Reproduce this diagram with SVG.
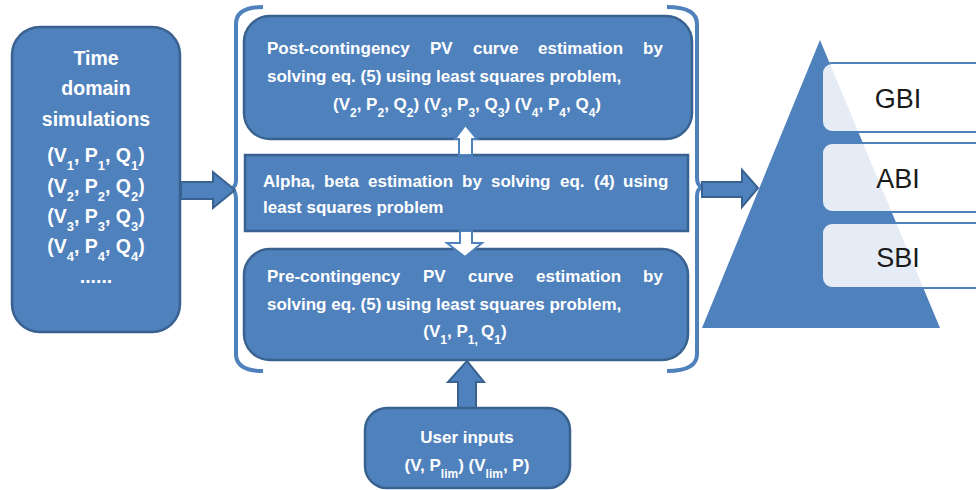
<svg xmlns="http://www.w3.org/2000/svg" width="976" height="490" viewBox="0 0 976 490">
<style>
.box{fill:#4f81bd;stroke:#3a6290;stroke-width:2.5}
.t{fill:#fff;font-family:"Liberation Sans",Arial,sans-serif;font-weight:bold;font-size:17px}
.tl{fill:#fff;font-family:"Liberation Sans",Arial,sans-serif;font-weight:bold;font-size:19.5px;text-anchor:middle}
.c{text-anchor:middle}
.s{font-size:12px;baseline-shift:sub}
.s2{font-size:13px;baseline-shift:sub}
.br{fill:none;stroke:#4f81bd;stroke-width:4}
.ar{fill:#4f81bd;stroke:#3a6290;stroke-width:2}
.aw{fill:#fff;stroke:#4f81bd;stroke-width:2}
.idx{fill:#fff;fill-opacity:0.85;stroke:#4f81bd;stroke-width:2}
.it{fill:#1a1a1a;font-family:"Liberation Sans",Arial,sans-serif;font-size:27px;text-anchor:middle}
</style>
<rect width="976" height="490" fill="#fff"/>
<g id="connectors">
<path class="br" d="M263 7 Q236 7 236 24 L236 180 Q236 187 231 189 Q236 191 236 198 L236 354 Q236 371 263 371"/>
<path class="br" d="M667 7 Q697 7 697 24 L697 178 Q697 185 702 187 Q697 189 697 196 L697 354 Q697 371 667 371"/>
<path class="ar" d="M181 182 L213 182 L213 172 L235 190 L213 208 L213 199 L181 199 Z"/>
<path class="ar" d="M702 182 L742 182 L742 170 L758 188 L742 207 L742 197 L702 197 Z"/>
<path class="ar" d="M458 408 L458 382 L448 382 L467 361 L484 382 L476 382 L476 408 Z"/>
</g>
<g id="time-domain">
<rect class="box" x="12" y="27" width="168" height="305" rx="28"/>
<text class="tl" x="96" y="65">Time</text>
<text class="tl" x="96" y="95">domain</text>
<text class="tl" x="96" y="126">simulations</text>
<text class="tl" x="96" y="162">(V<tspan class="s2">1</tspan>, P<tspan class="s2">1</tspan>, Q<tspan class="s2">1</tspan>)</text>
<text class="tl" x="96" y="193">(V<tspan class="s2">2</tspan>, P<tspan class="s2">2</tspan>, Q<tspan class="s2">2</tspan>)</text>
<text class="tl" x="96" y="223">(V<tspan class="s2">3</tspan>, P<tspan class="s2">3</tspan>, Q<tspan class="s2">3</tspan>)</text>
<text class="tl" x="96" y="253">(V<tspan class="s2">4</tspan>, P<tspan class="s2">4</tspan>, Q<tspan class="s2">4</tspan>)</text>
<text class="tl" x="96" y="283">......</text>
</g>
<g id="post-contingency">
<rect class="box" x="244" y="16" width="448" height="123" rx="26"/>
<text class="t" y="54"><tspan x="267">Post-contingency</tspan><tspan x="430">PV</tspan><tspan x="473">curve</tspan><tspan x="538">estimation</tspan><tspan x="643">by</tspan></text>
<text class="t" x="267" y="82">solving eq. (5) using least squares problem,</text>
<text class="t c" x="467" y="110">(V<tspan class="s">2</tspan>, P<tspan class="s">2</tspan>, Q<tspan class="s">2</tspan>) (V<tspan class="s">3</tspan>, P<tspan class="s">3</tspan>, Q<tspan class="s">3</tspan>) (V<tspan class="s">4</tspan>, P<tspan class="s">4</tspan>, Q<tspan class="s">4</tspan>)</text>
</g>
<g id="alpha-beta">
<rect class="box" x="245" y="155" width="443" height="76"/>
<text class="t" y="187"><tspan x="263">Alpha,</tspan><tspan x="324">beta</tspan><tspan x="368">estimation</tspan><tspan x="462">by</tspan><tspan x="491">solving</tspan><tspan x="560">eq.</tspan><tspan x="594">(4)</tspan><tspan x="623">using</tspan></text>
<text class="t" x="263" y="213">least squares problem</text>
</g>
<g id="pre-contingency">
<rect class="box" x="244" y="249" width="444" height="111" rx="26"/>
<text class="t" y="282"><tspan x="267">Pre-contingency</tspan><tspan x="423">PV</tspan><tspan x="468">curve</tspan><tspan x="536">estimation</tspan><tspan x="643">by</tspan></text>
<text class="t" x="267" y="310">solving eq. (5) using least squares problem,</text>
<text class="t c" x="465" y="337">(V<tspan class="s">1</tspan>, P<tspan class="s">1, </tspan>Q<tspan class="s">1</tspan>)</text>
</g>
<g id="arrows-inner">
<path class="aw" d="M459 155 L459 139 L455 139 L465.5 125 L477 139 L472 139 L472 155 Z"/>
<path class="aw" d="M460 231 L460 243 L447 243 L465 257 L482 243 L472 243 L472 231 Z"/>
</g>
<g id="user-inputs">
<rect class="box" x="365" y="408" width="205" height="80" rx="22"/>
<text class="t c" x="467" y="443">User inputs</text>
<text class="t c" x="467" y="471">(V, P<tspan class="s">lim</tspan>) (V<tspan class="s">lim</tspan>, P)</text>
</g>
<g id="pyramid">
<polygon points="820,40 702,328 940,328" fill="#4f81bd"/>
</g>
<g id="gbi">
<rect class="idx" x="822" y="63" width="170" height="69" rx="10"/>
<text class="it" x="898" y="108">GBI</text>
</g>
<g id="abi">
<rect class="idx" x="822" y="143" width="170" height="69" rx="10"/>
<text class="it" x="898" y="188">ABI</text>
</g>
<g id="sbi">
<rect class="idx" x="822" y="223" width="170" height="65" rx="10"/>
<text class="it" x="898" y="267">SBI</text>
</g>
</svg>
